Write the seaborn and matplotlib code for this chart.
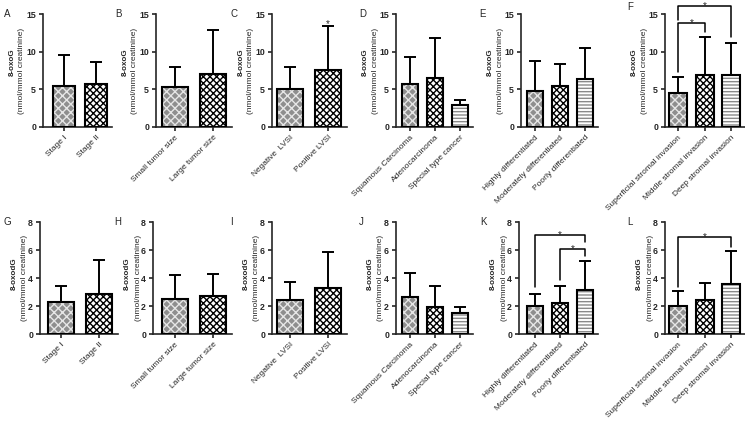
import numpy as np
import pandas as pd
import matplotlib
matplotlib.use("Agg")
import matplotlib.pyplot as plt
import seaborn as sns

sns.set_style("ticks")
plt.rcParams["font.family"] = ["Liberation Sans", "DejaVu Sans"]
plt.rcParams["hatch.linewidth"] = 1.0

# categories
stage = ["Stage I", "Stage II"]
tumor_size = ["Small tumor size", "Large tumor size"]
lvsi = ["Negative  LVSI", "Positive LVSI"]
histology = ["Squamous Carcinoma", "Adenocarcinoma", "Special type cancer"]
differentiation = ["Highly differentiated", "Moderately differentiated", "Poorly differentiated"]
invasion = ["Superficial stromal invasion", "Middle stromal invasion", "Deep stromal invasion"]

# 8-oxoG (top row): mean and SD
oxog_stage_mean = [5.5, 5.7]
oxog_stage_sd = [4.1, 2.95]
oxog_size_mean = [5.3, 7.05]
oxog_size_sd = [2.6, 5.85]
oxog_lvsi_mean = [5.07, 7.63]
oxog_lvsi_sd = [2.87, 5.74]
oxog_hist_mean = [5.73, 6.48, 2.96]
oxog_hist_sd = [3.62, 5.3, 0.57]
oxog_diff_mean = [4.8, 5.47, 6.36]
oxog_diff_sd = [4.0, 2.89, 4.14]
oxog_inv_mean = [4.53, 6.89, 6.85]
oxog_inv_sd = [2.14, 5.11, 4.25]

# 8-oxodG (bottom row)
oxodg_stage_mean = [2.32, 2.86]
oxodg_stage_sd = [1.12, 2.41]
oxodg_size_mean = [2.5, 2.75]
oxodg_size_sd = [1.7, 1.55]
oxodg_lvsi_mean = [2.4, 3.3]
oxodg_lvsi_sd = [1.3, 2.55]
oxodg_hist_mean = [2.65, 1.95, 1.5]
oxodg_hist_sd = [1.7, 1.5, 0.45]
oxodg_diff_mean = [2.01, 2.18, 3.15]
oxodg_diff_sd = [0.83, 1.28, 2.05]
oxodg_inv_mean = [2.03, 2.46, 3.57]
oxodg_inv_sd = [1.02, 1.21, 2.39]

# significance: (bar i, bar j, bracket level, left leg end, right leg end)
sig_F = [(0, 1, 13.8, 7.3, 12.6), (0, 2, 16.0, 14.2, 11.9)]
sig_K = [(0, 2, 7.05, 3.38, 6.58), (1, 2, 6.1, 3.86, 5.6)]
sig_L = [(0, 2, 6.93, 3.38, 6.22)]
star_C = [(1, 13.37)]

W, H = 745, 426
rows = {0: (14, 127), 1: (222, 334)}

# (face, hatch colour, hatch) for bar 1, 2, 3
patterns = [("#8e8e8e", "#e6e6e6", "xxxx"),
            ("white", "black", "xxxxx"),
            ("white", "#8a8a8a", "-----")]

panels = [
    ("A", 0, stage, oxog_stage_mean, oxog_stage_sd, 43, 64, 32, [], []),
    ("B", 0, tumor_size, oxog_size_mean, oxog_size_sd, 156, 175, 38, [], []),
    ("C", 0, lvsi, oxog_lvsi_mean, oxog_lvsi_sd, 272, 290, 38, [], star_C),
    ("D", 0, histology, oxog_hist_mean, oxog_hist_sd, 396, 410, 25, [], []),
    ("E", 0, differentiation, oxog_diff_mean, oxog_diff_sd, 521, 535, 25, [], []),
    ("F", 0, invasion, oxog_inv_mean, oxog_inv_sd, 665, 678.5, 27, sig_F, []),
    ("G", 1, stage, oxodg_stage_mean, oxodg_stage_sd, 40, 61, 38, [], []),
    ("H", 1, tumor_size, oxodg_size_mean, oxodg_size_sd, 153, 175, 38, [], []),
    ("I", 1, lvsi, oxodg_lvsi_mean, oxodg_lvsi_sd, 272, 290, 38, [], []),
    ("J", 1, histology, oxodg_hist_mean, oxodg_hist_sd, 396, 410, 25, [], []),
    ("K", 1, differentiation, oxodg_diff_mean, oxodg_diff_sd, 519, 535, 25, sig_K, []),
    ("L", 1, invasion, oxodg_inv_mean, oxodg_inv_sd, 665, 678.5, 27, sig_L, []),
]
letter_pos = {"A": (4, 14), "B": (115, 14), "C": (231, 14), "D": (359, 14),
              "E": (479, 14), "F": (627, 7), "G": (3, 222), "H": (114, 222),
              "I": (230, 222), "J": (359, 222), "K": (480, 222), "L": (627, 222)}

fig = plt.figure(figsize=(W / 100, H / 100), dpi=100)

for letter, row, cats, mean, sd, left, c0, step, sigs, stars in panels:
    n = len(cats)
    top, bottom = rows[row]
    right = min(c0 + (n - 0.5) * step, W - 0.5)
    ax = fig.add_axes([left / W, 1 - bottom / H, (right - left) / W, (bottom - top) / H])
    df = pd.DataFrame({"group": cats, "value": mean})
    sns.barplot(data=df, x="group", y="value", order=cats, errorbar=None,
                width=0.67, saturation=1, linewidth=0, ax=ax)
    for k, patch in enumerate(list(ax.patches)):
        face, hcol, hatch = patterns[k]
        patch.set_facecolor(face)
        patch.set_edgecolor(hcol)
        patch.set_hatch(hatch)
        patch.set_linewidth(0)
        ax.add_patch(plt.Rectangle(patch.get_xy(), patch.get_width(), patch.get_height(),
                                   fill=False, edgecolor="black", linewidth=1.5, zorder=3))
    ax.errorbar(np.arange(n), mean, yerr=[np.zeros(n), sd], fmt="none", ecolor="black",
                elinewidth=1.4, capsize=4, capthick=1.4, zorder=4)

    ymax = 15 if row == 0 else 8
    ax.set_ylim(0, ymax)
    ax.set_xlim(-(c0 - left) / step, n - 0.5)
    ax.set_yticks(np.arange(0, ymax + 1, 5 if row == 0 else 2))
    ax.set_xlabel("")
    ax.set_ylabel("")
    ax.set_xticks(np.arange(n))
    ax.set_xticklabels(cats, rotation=45, ha="right", rotation_mode="anchor", fontsize=6)
    for t in ax.get_yticklabels():
        t.set_fontsize(6.3)
        t.set_fontweight("bold")
    ax.tick_params(axis="both", length=3, width=1.2, pad=2)
    sns.despine(ax=ax)
    for s in ("left", "bottom"):
        ax.spines[s].set_linewidth(1.2)

    for i, j, level, yl, yr in sigs:
        ax.plot([i, i, j, j], [yl, level, level, yr], color="black", lw=1.1, clip_on=False)
        ax.annotate("*", xy=((i + j) / 2, level), xytext=(0, -2.2), textcoords="offset points",
                    ha="center", va="baseline", fontsize=7, annotation_clip=False)
    for i, y in stars:
        ax.annotate("*", xy=(i, y), xytext=(0, -0.8), textcoords="offset points",
                    ha="center", va="baseline", fontsize=7)

    # two-line axis label
    off_b, off_n = (-31, -21) if row == 0 else (-26, -15)
    name = "8-oxoG" if row == 0 else "8-oxodG"
    yb = top + (0.43 if row == 0 else 0.46) * (bottom - top)
    yn = top + 0.5 * (bottom - top)
    fig.text((left + off_b) / W, 1 - yb / H, name, rotation=90, ha="center", va="center",
             fontsize=5.8, fontweight="bold")
    fig.text((left + off_n) / W, 1 - yn / H, "(nmol/mmol creatinine)", rotation=90,
             ha="center", va="center", fontsize=6)

    lx, ly = letter_pos[letter]
    fig.text(lx / W, 1 - ly / H, letter, ha="left", va="center", fontsize=7)

fig.savefig("out.png", dpi=100)
